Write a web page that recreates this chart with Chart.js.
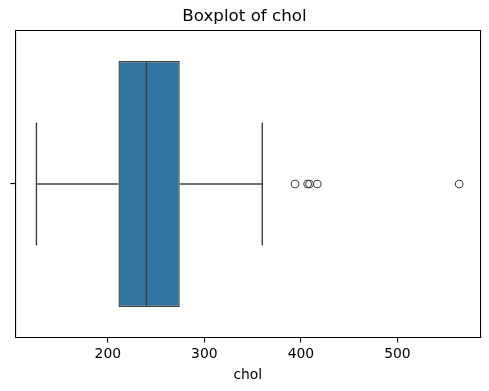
<!DOCTYPE html>
<html><head><meta charset="utf-8">
<script src="https://cdn.jsdelivr.net/npm/chart.js@4.4.1/dist/chart.umd.min.js"></script>
<style>html,body{margin:0;padding:0;background:#fff}#wrap{width:489px;height:391px}</style>
</head><body><div id="wrap"><canvas id="c" width="489" height="391"></canvas></div>
<script>
const categories = [''];
const whiskerLow = 126, q1 = 211, median = 240, q3 = 274.5, whiskerHigh = 360;
const outliers = [394, 407, 409, 417, 564];
const xTicks = [200, 300, 400, 500];
const xMin = 104.1, xMax = 585.9;

const lineCol = '#404040';
const boxCol = '#3274a1';
const seg = (data) => ({type:'line', data, xAxisID:'x', yAxisID:'yv', indexAxis:'x',
  borderColor:lineCol, borderWidth:1.4, pointRadius:0, fill:false, order:1, tension:0});

Chart.defaults.font.family = 'DejaVu Sans';
Chart.defaults.color = '#000';

new Chart(document.getElementById('c'), {
  type:'bar',
  data:{
    labels: categories,
    datasets:[
      {type:'bar', data:[[q1,q3]], xAxisID:'x', yAxisID:'y', backgroundColor:boxCol, grouped:false,
       borderColor:lineCol, borderWidth:1.4, borderSkipped:false, barPercentage:0.8, categoryPercentage:1.0, order:2},
      seg([{x:whiskerLow,y:0},{x:q1,y:0}]),
      seg([{x:q3,y:0},{x:whiskerHigh,y:0}]),
      seg([{x:whiskerLow,y:-0.2},{x:whiskerLow,y:0.2}]),
      seg([{x:whiskerHigh,y:-0.2},{x:whiskerHigh,y:0.2}]),
      seg([{x:median,y:-0.4},{x:median,y:0.4}]),
      {type:'scatter', data: outliers.map(v=>({x:v,y:0})), xAxisID:'x', yAxisID:'yv', indexAxis:'x',
       pointRadius:3.8, pointBorderWidth:1.1, pointBorderColor:lineCol, pointBackgroundColor:'rgba(0,0,0,0)', order:0}
    ]
  },
  options:{
    indexAxis:'y', responsive:false, animation:false,
    layout:{padding:0},
    plugins:{
      legend:{display:false}, tooltip:{enabled:false},
      title:{display:true, text:'Boxplot of chol', color:'#000',
        font:{size:16.7, weight:'normal', family:'DejaVu Sans'}, padding:{top:7,bottom:3.3}}
    },
    scales:{
      x:{type:'linear', position:'bottom', min:xMin, max:xMax, offset:false,
        afterBuildTicks:(s)=>{s.ticks = xTicks.map(v=>({value:v}));},
        afterFit:(s)=>{s.height = 53.3;},
        ticks:{font:{size:13.9}, color:'#000', padding:3, maxRotation:0},
        grid:{display:true, drawOnChartArea:false, drawTicks:true, tickLength:4.9, color:'#000', lineWidth:1.1, offset:false},
        border:{display:true, color:'#000', width:1.1},
        title:{display:true, text:'chol', color:'#000', font:{size:13.9}, padding:{top:0,bottom:7}}
      },
      x2:{type:'linear', position:'top', min:xMin, max:xMax, display:true, offset:false,
        afterFit:(s)=>{s.height = 0;},
        ticks:{display:false}, grid:{display:false, offset:false},
        border:{display:true, color:'#000', width:1.1}
      },
      y:{type:'category', position:'left', offset:true,
        afterFit:(s)=>{s.width = 15.3;},
        ticks:{display:true, padding:0},
        grid:{display:true, drawOnChartArea:false, drawTicks:true, tickLength:4.9, color:'#000', lineWidth:1.1, offset:false},
        border:{display:true, color:'#000', width:1.1}
      },
      y2:{type:'linear', position:'right', display:true, offset:false,
        afterFit:(s)=>{s.width = 8.7;},
        ticks:{display:false}, grid:{display:false, offset:false},
        border:{display:true, color:'#000', width:1.1}
      },
      yv:{type:'linear', display:false, min:-0.5, max:0.5, offset:false, grid:{offset:false}}
    }
  }
});
</script></body></html>
